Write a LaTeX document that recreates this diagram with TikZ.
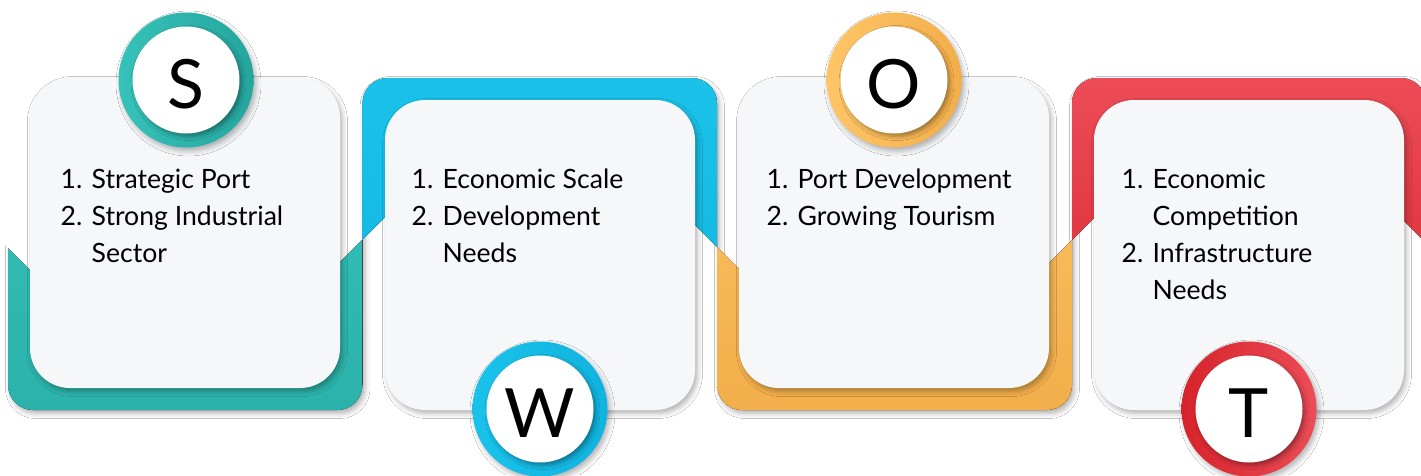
\documentclass[tikz,border=0pt]{standalone}
\usepackage{fontspec}
\setmainfont{Lato}
\usetikzlibrary{shadows.blur}

\definecolor{tealA}{HTML}{36C2BA}
\definecolor{tealB}{HTML}{2BB3AB}
\definecolor{tealR}{HTML}{24A59D}
\definecolor{blueA}{HTML}{1AC2EA}
\definecolor{blueB}{HTML}{10B3DF}
\definecolor{yelA}{HTML}{FEC567}
\definecolor{yelB}{HTML}{F2AE4A}
\definecolor{redA}{HTML}{EC4C57}
\definecolor{redB}{HTML}{D6232B}
\definecolor{cardbg}{HTML}{F6F7F9}

\tikzset{
  soft/.style={blur shadow={shadow xshift=2.5pt, shadow yshift=-3.5pt,
      shadow blur radius=5pt, shadow opacity=30}},
  backing/.style={rounded corners=25pt, soft},
  card/.style={rectangle, fill=cardbg, rounded corners=40pt,
      minimum width=310pt, minimum height=310pt, inner sep=0pt, soft},
  ring/.style={circle, minimum size=135pt, inner sep=0pt, soft},
  disc/.style={circle, fill=white, minimum size=107pt, inner sep=0pt,
      blur shadow={shadow xshift=2.5pt, shadow yshift=-3pt,
      shadow blur radius=4pt, shadow opacity=35}},
  letter/.style={inner sep=0pt, font=\fontsize{68}{68}\selectfont},
  items/.style={anchor=base west, inner sep=0pt, align=left,
      font=\fontsize{26.6}{37}\selectfont},
}

\newcommand{\swotlist}[1]{\begin{tabular}[t]{@{}p{31pt}@{}l@{}}#1\end{tabular}}

\begin{document}
\begin{tikzpicture}[x=1pt, y=-1pt]
  \useasboundingbox (0,0) rectangle (1421,475);
  \fill[white] (0,0) rectangle (1421,475);

  % coloured ribbon behind the cards, cut by the zigzag diagonals
  \begin{scope}
    \clip (0,240) -- (62,302) -- (300,302) -- (370,232) -- (370,432) -- (0,432) -- cycle;
    \fill[backing, top color=tealA, bottom color=tealB] (8,78) rectangle (362.5,410);
  \end{scope}
  \begin{scope}
    \clip (355,60) -- (355,247) -- (395,207) -- (680,210) -- (725,255) -- (725,60) -- cycle;
    \fill[backing, top color=blueA, bottom color=blueB] (362.5,78) rectangle (717,410);
  \end{scope}
  \begin{scope}
    \clip (710,240) -- (750,280) -- (1040,272) -- (1080,232) -- (1080,432) -- (710,432) -- cycle;
    \fill[backing, top color=yelA, bottom color=yelB] (717,78) rectangle (1072,410);
  \end{scope}
  \begin{scope}
    \clip (1065,247) -- (1105,207) -- (1390,207) -- (1430,247) -- (1430,60) -- (1065,60) -- cycle;
    \fill[backing, top color=redA, bottom color=redB] (1072,78) rectangle (1426,410);
  \end{scope}

  % white cards
  \node[card] (cardS) at (185,233) {};
  \node[card] (cardW) at (540,255) {};
  \node[card] (cardO) at (894,233) {};
  \node[card] (cardT) at (1249,255) {};

  % letter badges
  \node[ring, left color=tealA, right color=tealR] (ringS) at (186,80) {};
  \node[ring, left color=blueA, right color=blueB] (ringW) at (540,409) {};
  \node[ring, left color=yelA, right color=yelB] (ringO) at (894,80) {};
  \node[ring, left color=redB, right color=redA] (ringT) at (1249,409) {};

  \node[disc] (discS) at (ringS) {};
  \node[disc] (discW) at (ringW) {};
  \node[disc] (discO) at (ringO) {};
  \node[disc] (discT) at (ringT) {};

  \node[letter] (letS) at ([yshift=-4pt]discS.center) {S};
  \node[letter] (letW) at ([yshift=-4pt]discW.center) {W};
  \node[letter] (letO) at ([yshift=-4pt]discO.center) {O};
  \node[letter] (letT) at ([yshift=-4pt]discT.center) {T};

  % card texts
  \node[items] (txtS) at (60.5,188) {\swotlist{1. & Strategic Port\\ 2. & Strong Industrial\\ & Sector}};
  \node[items] (txtW) at (411.5,188) {\swotlist{1. & Economic Scale\\ 2. & Development\\ & Needs}};
  \node[items] (txtO) at (766.5,188) {\swotlist{1. & Port Development\\ 2. & Growing Tourism}};
  \node[items] (txtT) at (1121.5,188) {\swotlist{1. & Economic\\ & Competition\\ 2. & Infrastructure\\ & Needs}};
\end{tikzpicture}
\end{document}
